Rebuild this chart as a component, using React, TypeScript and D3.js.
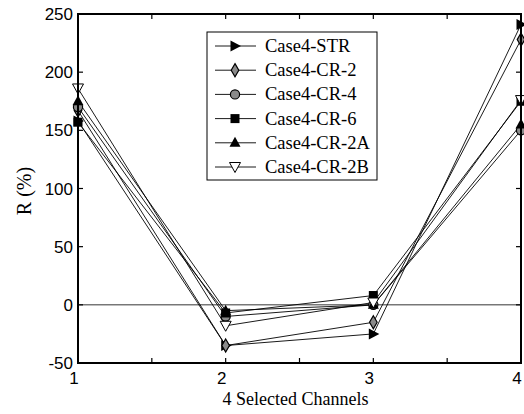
import React, { useEffect, useRef } from "react";
import * as d3 from "d3";

// channels on the x axis
const channels = [1, 2, 3, 4];

// R (%) values per series, one per channel
const caseSTR = [158, -35, -25, 241];
const caseCR2 = [167, -35, -15, 228];
const caseCR4 = [170, -10, 0, 150];
const caseCR6 = [157, -7, 8, 175];
const caseCR2A = [175, -5, 0, 155];
const caseCR2B = [186, -18, 2, 176];

const seriesNames = ["Case4-STR", "Case4-CR-2", "Case4-CR-4", "Case4-CR-6", "Case4-CR-2A", "Case4-CR-2B"];
const seriesValues = [caseSTR, caseCR2, caseCR4, caseCR6, caseCR2A, caseCR2B];

const yTicks = [-50, 0, 50, 100, 150, 200, 250];
const xTicks = [1, 2, 3, 4];

// marker drawing for each series
function drawMarker(g, i) {
    if (i === 0) {
        g.append("path").attr("d", "M-4.5,-5.5L6,0L-4.5,5.5Z").attr("fill", "#000");
    } else if (i === 1) {
        g.append("path")
            .attr("d", d3.symbol(d3.symbolDiamond, 50)())
            .attr("fill", "#8a8a8a")
            .attr("stroke", "#000")
            .attr("stroke-width", 1.2);
    } else if (i === 2) {
        g.append("circle").attr("r", 4.6).attr("fill", "#8a8a8a").attr("stroke", "#000").attr("stroke-width", 1.2);
    } else if (i === 3) {
        g.append("rect").attr("x", -4.5).attr("y", -4.5).attr("width", 9).attr("height", 9).attr("fill", "#000");
    } else if (i === 4) {
        g.append("path").attr("d", "M0,-6L5.5,4L-5.5,4Z").attr("fill", "#000");
    } else {
        g.append("path")
            .attr("d", "M0,5.5L5.5,-4.5L-5.5,-4.5Z")
            .attr("fill", "#fff")
            .attr("stroke", "#000")
            .attr("stroke-width", 1);
    }
}

const App = () => {
    const ref = useRef(null);

    useEffect(() => {
        const width = 524;
        const height = 414;
        const svg = d3.select(ref.current);
        svg.selectAll("*").remove();

        const left = 78, right = 521, top = 14, bottom = 363;

        const x = d3.scaleLinear().domain([1, 4]).range([left, right]);
        const y = d3.scaleLinear().domain([-50, 250]).range([bottom, top]);

        // zero line
        svg.append("line")
            .attr("x1", left).attr("x2", right)
            .attr("y1", y(0)).attr("y2", y(0))
            .attr("stroke", "#000").attr("stroke-width", 0.8);

        // inner ticks, both sides
        const tickG = svg.append("g").attr("stroke", "#000").attr("stroke-width", 1.2);
        d3.range(1, 4.01, 0.5).forEach((t) => {
            tickG.append("line").attr("x1", x(t)).attr("x2", x(t)).attr("y1", bottom).attr("y2", bottom - 5);
            tickG.append("line").attr("x1", x(t)).attr("x2", x(t)).attr("y1", top).attr("y2", top + 5);
        });
        yTicks.forEach((t) => {
            tickG.append("line").attr("x1", left).attr("x2", left + 5).attr("y1", y(t)).attr("y2", y(t));
            tickG.append("line").attr("x1", right).attr("x2", right - 5).attr("y1", y(t)).attr("y2", y(t));
        });

        // series lines
        const line = d3.line().x((d, i) => x(channels[i])).y((d) => y(d));
        seriesValues.forEach((vals) => {
            svg.append("path")
                .attr("d", line(vals))
                .attr("fill", "none")
                .attr("stroke", "#000")
                .attr("stroke-width", 0.9);
        });

        // markers
        seriesValues.forEach((vals, si) => {
            vals.forEach((v, i) => {
                const g = svg.append("g").attr("transform", `translate(${x(channels[i])},${y(v)})`);
                drawMarker(g, si);
            });
        });

        // axes box
        svg.append("rect")
            .attr("x", left).attr("y", top)
            .attr("width", right - left).attr("height", bottom - top)
            .attr("fill", "none").attr("stroke", "#000").attr("stroke-width", 2);

        // tick labels
        svg.append("g")
            .selectAll("text")
            .data(yTicks)
            .join("text")
            .attr("x", left - 5)
            .attr("y", (d) => y(d) + 6)
            .attr("text-anchor", "end")
            .attr("font-family", "Liberation Sans, Arial, sans-serif")
            .attr("font-size", 17)
            .text((d) => d);

        svg.append("g")
            .selectAll("text")
            .data(xTicks)
            .join("text")
            .attr("x", (d) => x(d) - 4)
            .attr("y", bottom + 21)
            .attr("text-anchor", "middle")
            .attr("font-family", "Liberation Sans, Arial, sans-serif")
            .attr("font-size", 17)
            .text((d) => d);

        // axis titles
        svg.append("text")
            .attr("x", (left + right) / 2 - 4)
            .attr("y", 405)
            .attr("text-anchor", "middle")
            .attr("font-family", "Liberation Serif, Times New Roman, serif")
            .attr("font-size", 18)
            .text("4 Selected Channels");

        svg.append("text")
            .attr("transform", `translate(31,${191}) rotate(-90)`)
            .attr("text-anchor", "middle")
            .attr("font-family", "Liberation Serif, Times New Roman, serif")
            .attr("font-size", 20)
            .text("R (%)");

        // legend
        const lx = 207, ly = 32, lw = 170, lh = 148;
        const legend = svg.append("g");
        legend.append("rect")
            .attr("x", lx).attr("y", ly).attr("width", lw).attr("height", lh)
            .attr("fill", "#fff").attr("stroke", "#000").attr("stroke-width", 1);
        seriesNames.forEach((name, i) => {
            const yy = 46 + i * 24.2;
            legend.append("line")
                .attr("x1", 215).attr("x2", 256)
                .attr("y1", yy).attr("y2", yy)
                .attr("stroke", "#000").attr("stroke-width", 0.9);
            drawMarker(legend.append("g").attr("transform", `translate(235,${yy})`), i);
            legend.append("text")
                .attr("x", 265)
                .attr("y", yy + 6)
                .attr("font-family", "Liberation Serif, Times New Roman, serif")
                .attr("font-size", 18.5)
                .text(name);
        });
    }, []);

    return (
        <svg
            ref={ref}
            width={524}
            height={414}
            style={{ position: "absolute", left: 0, top: 0, background: "#fff" }}
        />
    );
};

export default App;
